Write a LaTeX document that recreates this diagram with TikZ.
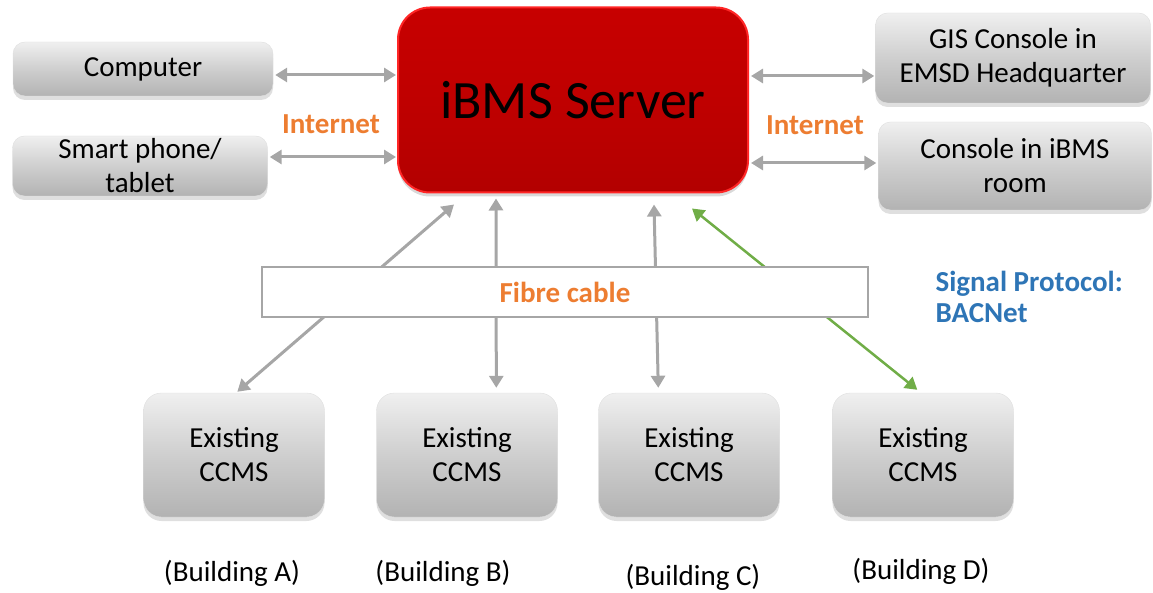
\documentclass[tikz,border=0pt]{standalone}
\usepackage{fontspec}
\setmainfont{Carlito}
\usetikzlibrary{arrows.meta,shadows,backgrounds}

\definecolor{linkgrey}{HTML}{A6A6A6}
\definecolor{netorange}{HTML}{ED7D31}
\definecolor{protoblue}{HTML}{2E75B6}
\definecolor{bacgreen}{HTML}{70AD47}

\tikzset{%
  % Specifications for style of nodes:
     greybox/.style = {rectangle, rounded corners=12pt, draw=gray!25, top color=gray!12, bottom color=gray!60, middle color=gray!38,
                       drop shadow={shadow xshift=0pt, shadow yshift=-4pt, opacity=0.25}, inner sep=0pt,
                       align=center, font=\fontsize{29}{34}\selectfont},
    ccmsbox/.style = {greybox, rounded corners=18pt, minimum width=181pt, minimum height=124pt},
   serverbox/.style = {rectangle, rounded corners=32pt, draw=red!85!white, line width=2pt, top color=red!78!black,
                       bottom color=red!70!black, middle color=red!75!black,
                       drop shadow={shadow xshift=0pt, shadow yshift=-4pt, opacity=0.3}, inner sep=0pt,
                       font=\fontsize{54}{60}\selectfont},
    fibrebox/.style = {rectangle, draw=linkgrey, line width=2pt, fill=white, inner sep=0pt,
                       font=\bfseries\fontsize{29}{33}\selectfont, text=netorange},
     netlabel/.style = {font=\bfseries\fontsize{29}{33}\selectfont, text=netorange},
  buildlabel/.style = {font=\fontsize{29}{33}\selectfont},
        link/.style = {{Triangle[length=12pt,width=14pt]}-{Triangle[length=12pt,width=14pt]}, line width=3pt, draw=linkgrey},
     bacnet/.style = {link, draw=bacgreen, line width=2.5pt},
}

\begin{document}
\begin{tikzpicture}[x=1pt, y=-1pt]
    \useasboundingbox (0,0) rectangle (1153,593);

    % Draw nodes
    \node (server)   [serverbox, minimum width=350pt, minimum height=185pt] at (573,100) {iBMS Server};
    \node (computer) [greybox, minimum width=260pt, minimum height=54pt]  at (143,69)  {Computer};
    \node (phone)    [greybox, minimum width=255pt, minimum height=60pt]  at (140,166) {Smart phone/\\tablet};
    \node (gis)      [greybox, minimum width=275pt, minimum height=90pt]  at (1013,58) {GIS Console in\\EMSD Headquarter};
    \node (console)  [greybox, minimum width=273pt, minimum height=88pt]  at (1015,166) {Console in iBMS\\room};

    \node (ccmsA)    [ccmsbox] at (234,455) {Existing\\CCMS};
    \node (ccmsB)    [ccmsbox] at (467,455) {Existing\\CCMS};
    \node (ccmsC)    [ccmsbox] at (689,455) {Existing\\CCMS};
    \node (ccmsD)    [ccmsbox] at (923,455) {Existing\\CCMS};

    \node (fibre)    [fibrebox, minimum width=606pt, minimum height=50pt] at (565,292) {Fibre cable};

    \node (netL)     [netlabel] at (331,124) {Internet};
    \node (netR)     [netlabel] at (815,125) {Internet};
    \node (proto)    [anchor=west, align=left, font=\bfseries\fontsize{29}{31}\selectfont, text=protoblue] at (932,297) {Signal Protocol:\\BACNet};

    \node (bldA)     [buildlabel] at (232,573) {(Building A)};
    \node (bldB)     [buildlabel] at (443,573) {(Building B)};
    \node (bldC)     [buildlabel] at (693,577) {(Building C)};
    \node (bldD)     [buildlabel] at (921,571) {(Building D)};

    % Draw arrows
    \coordinate (c1) at ([shift={(2,6)}]computer.east);
    \coordinate (c2) at ([shift={(2,-9)}]phone.east);
    \coordinate (c3) at ([shift={(-1,18)}]gis.west);
    \coordinate (c4) at ([shift={(-2,-3)}]console.west);
    \draw[link]  (c1) -- ([xshift=-1pt]c1 -| server.west);
    \draw[link]  (c2) -- ([xshift=-1pt]c2 -| server.west);
    \draw[link]  (c3) -- ([xshift=2pt]c3 -| server.east);
    \draw[link]  (c4) -- ([xshift=2pt]c4 -| server.east);

    \begin{scope}[on background layer]
    \draw[link]   ([shift={(57,11)}]server.south west)  -- ([shift={(94,-1)}]ccmsA.north west);
    \draw[link]   ([shift={(99,5)}]server.south west)   -- ([shift={(120,-5)}]ccmsB.north west);
    \draw[link]   ([shift={(257,11)}]server.south west) -- ([shift={(60,-5)}]ccmsC.north west);
    \draw[bacnet] ([shift={(295,15)}]server.south west) -- ([shift={(85,-3)}]ccmsD.north west);
    \end{scope}
\end{tikzpicture}
\end{document}
